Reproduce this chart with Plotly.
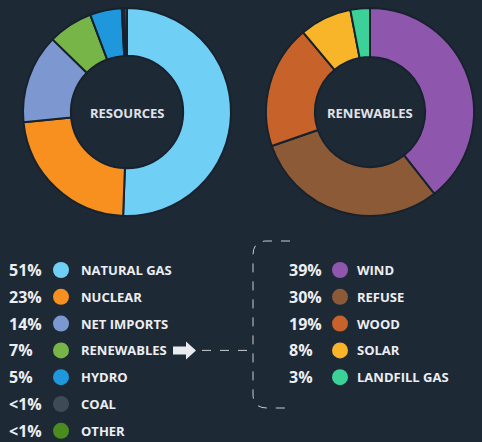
import plotly.graph_objects as go

# ── data ────────────────────────────────────────────────────────────────
RESOURCE_LABELS = ["NATURAL GAS", "NUCLEAR", "NET IMPORTS", "RENEWABLES", "HYDRO", "COAL", "OTHER"]
RESOURCE_VALUES = [51, 23, 14, 7, 5, 0.4, 0.4]
RESOURCE_PCT = ["51%", "23%", "14%", "7%", "5%", "<1%", "<1%"]
RESOURCE_COLORS = ["#6FCFF5", "#F7901E", "#7D98D0", "#78B548", "#1E97DC", "#3E4A55", "#4B8C1E"]

RENEW_LABELS = ["WIND", "REFUSE", "WOOD", "SOLAR", "LANDFILL GAS"]
RENEW_VALUES = [39, 30, 19, 8, 3]
RENEW_PCT = ["39%", "30%", "19%", "8%", "3%"]
RENEW_COLORS = ["#8F56AD", "#8C5A37", "#C7622A", "#F8B52A", "#3BD199"]

# ── style ───────────────────────────────────────────────────────────────
W, H = 482, 442
BG = "#1D2A36"
EDGE = "#17222D"
TXT = "#EEEEF2"
FONT = "Open Sans"

ROW0, ROW_STEP = 270, 26.8

fig = go.Figure()

# donuts
fig.add_trace(go.Pie(
    values=RESOURCE_VALUES, labels=RESOURCE_LABELS, sort=False, direction="clockwise",
    hole=0.54, marker=dict(colors=RESOURCE_COLORS, line=dict(color=EDGE, width=2)),
    textinfo="none", domain=dict(x=[23 / W, 231 / W], y=[1 - 216 / H, 1 - 8 / H]),
    showlegend=False,
))
fig.add_trace(go.Pie(
    values=RENEW_VALUES, labels=RENEW_LABELS, sort=False, direction="clockwise",
    hole=0.53, marker=dict(colors=RENEW_COLORS, line=dict(color=EDGE, width=2)),
    textinfo="none", domain=dict(x=[266 / W, 474 / W], y=[1 - 216 / H, 1 - 8 / H]),
    showlegend=False,
))

# legend dots
left_rows = [ROW0 + i * ROW_STEP for i in range(len(RESOURCE_LABELS))]
right_rows = [ROW0 + i * ROW_STEP for i in range(len(RENEW_LABELS))]
fig.add_trace(go.Scatter(
    x=[61] * len(left_rows), y=left_rows, mode="markers",
    marker=dict(size=16, color=RESOURCE_COLORS, line_width=0),
    showlegend=False, hoverinfo="skip",
))
fig.add_trace(go.Scatter(
    x=[340] * len(right_rows), y=right_rows, mode="markers",
    marker=dict(size=16, color=RENEW_COLORS, line_width=0),
    showlegend=False, hoverinfo="skip",
))

annotations = [
    dict(x=127, y=113, text="RESOURCES", font=dict(size=13, color="#E2E2EA")),
    dict(x=370, y=113, text="RENEWABLES", font=dict(size=13, color="#E2E2EA")),
]
for y, pct, lab in zip(left_rows, RESOURCE_PCT, RESOURCE_LABELS):
    annotations.append(dict(x=7, y=y, text=pct, xanchor="left", font=dict(size=16, color=TXT)))
    annotations.append(dict(x=79, y=y, text=lab, xanchor="left", font=dict(size=13, color=TXT)))
for y, pct, lab in zip(right_rows, RENEW_PCT, RENEW_LABELS):
    annotations.append(dict(x=287, y=y, text=pct, xanchor="left", font=dict(size=16, color=TXT)))
    annotations.append(dict(x=355, y=y, text=lab, xanchor="left", font=dict(size=13, color=TXT)))
for a in annotations:
    a.update(xref="x", yref="y", showarrow=False)
    a["font"].update(family=FONT, weight="bold")

arrow_y = left_rows[3]
shapes = [
    # white arrow after RENEWABLES
    dict(type="path", xref="x", yref="y", fillcolor="#E9EBEE", line_width=0,
         path=f"M173,{arrow_y-4} L186,{arrow_y-4} L186,{arrow_y-9} L196,{arrow_y} "
              f"L186,{arrow_y+9} L186,{arrow_y+4} L173,{arrow_y+4} Z"),
    # dashed connector
    dict(type="line", xref="x", yref="y", x0=202, x1=252, y0=arrow_y, y1=arrow_y,
         line=dict(color="#C9CDD2", width=1, dash="dash")),
    # dashed bracket
    dict(type="path", xref="x", yref="y", line=dict(color="#C9CDD2", width=1, dash="dash"),
         path="M290,241 L267,241 Q253,241 253,255 L253,394 Q253,408 267,408 L290,408"),
]

fig.update_layout(
    width=W, height=H,
    paper_bgcolor=BG, plot_bgcolor=BG,
    margin=dict(l=0, r=0, t=0, b=0),
    xaxis=dict(range=[0, W], visible=False, fixedrange=True),
    yaxis=dict(range=[H, 0], visible=False, fixedrange=True),
    annotations=annotations,
    shapes=shapes,
    font=dict(family=FONT),
)

# page body has a default 8px margin; drop it so the figure fills the window
fig.write_html("out.html", post_script="document.body.style.margin='0';",
               config=dict(displayModeBar=False))
